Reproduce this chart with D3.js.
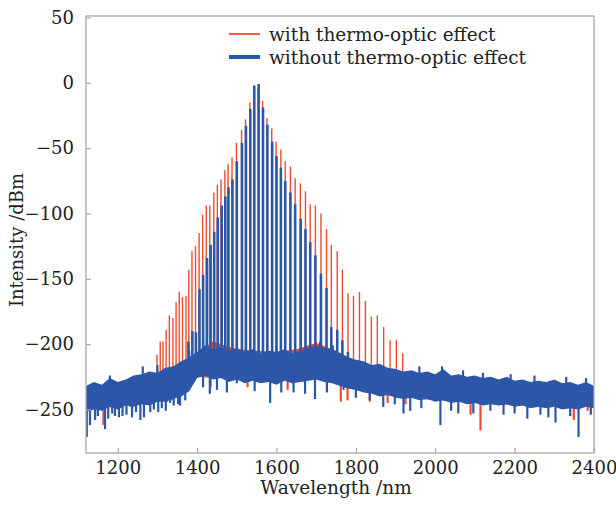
<!DOCTYPE html>
<html>
<head>
<meta charset="utf-8">
<script src="https://cdn.jsdelivr.net/npm/d3@7"></script>
<style>
  body { margin: 0; background: #fff; }
  text { font-family: "DejaVu Serif", serif; fill: #222; }
</style>
</head>
<body>
<svg id="chart" width="616" height="506"></svg>
<script>
// axis ticks
const xTicks = [1200, 1400, 1600, 1800, 2000, 2200, 2400];
const yTicks = [50, 0, -50, -100, -150, -200, -250];

// comb lines, without thermo-optic effect (blue)
const blueToothWl = [1378, 1388, 1397, 1406, 1415, 1425, 1434, 1443, 1452, 1462, 1471, 1479, 1489,
  1500, 1513, 1523, 1534, 1544, 1555, 1566, 1577, 1589, 1600, 1611, 1622, 1635, 1647, 1661, 1673,
  1685, 1698, 1712, 1726, 1738, 1753, 1766, 1780];
const blueToothDb = [-198, -190, -191, -158, -147, -134, -124, -114, -103, -94, -87, -80, -74,
  -60, -46, -33, -20, -2, -1, -19, -32, -45, -56, -65, -75, -84, -93, -104, -112,
  -122, -132, -146, -157, -187, -189, -197, -206];

// comb lines, with thermo-optic effect (red)
const redToothWl = [1299, 1307, 1314, 1322, 1330, 1339, 1347, 1355, 1363, 1372, 1379, 1387, 1396,
  1405, 1414, 1423, 1432, 1442, 1451, 1460, 1470, 1478, 1488, 1499, 1512, 1522, 1533, 1543, 1554,
  1565, 1576, 1588, 1599, 1611, 1622, 1635, 1647, 1660, 1673, 1685, 1698, 1712, 1726, 1738, 1753,
  1766, 1780, 1794, 1809, 1824, 1839, 1854, 1870, 1886, 1902, 1918];
const redToothDb = [-208, -198, -198, -189, -178, -180, -168, -160, -164, -163, -143, -129, -125,
  -115, -101, -94, -94, -84, -78, -74, -67, -62, -57, -46, -36, -28, -15, -4, -4,
  -14, -27, -35, -45, -51, -60, -64, -73, -77, -83, -93, -94, -100, -112, -124, -129,
  -143, -161, -163, -160, -167, -179, -178, -187, -197, -197, -207];

// noise floor band of the blue trace (upper / lower edge), every 20 nm
const blueFloorWl = [1120, 1140, 1160, 1180, 1200, 1220, 1240, 1260, 1280, 1300, 1320, 1340, 1360,
  1380, 1400, 1420, 1440, 1460, 1480, 1500, 1520, 1540, 1560, 1580, 1600, 1620, 1640, 1660, 1680,
  1700, 1720, 1740, 1760, 1780, 1800, 1820, 1840, 1860, 1880, 1900, 1920, 1940, 1960, 1980, 2000,
  2020, 2040, 2060, 2080, 2100, 2120, 2140, 2160, 2180, 2200, 2220, 2240, 2260, 2280, 2300, 2320,
  2340, 2360, 2380, 2400];
const blueFloorTop = [-232, -229, -231, -226, -229, -227, -224, -223, -221, -222, -218, -217, -213,
  -210, -206, -201, -204, -202, -205, -203, -206, -204, -207, -205, -206, -204, -207, -205, -203,
  -201, -203, -204, -207, -210, -212, -213, -216, -215, -218, -219, -221, -220, -222, -221, -223,
  -219, -224, -223, -225, -224, -226, -225, -227, -225, -228, -227, -229, -228, -229, -227, -230,
  -229, -231, -229, -232];
const blueFloorBot = [-252, -250, -251, -248, -250, -247, -248, -246, -247, -244, -244, -242, -240,
  -236, -226, -224, -227, -226, -229, -227, -230, -228, -230, -229, -231, -228, -230, -229, -228,
  -227, -229, -230, -232, -234, -235, -237, -238, -240, -239, -241, -242, -241, -243, -242, -244,
  -243, -245, -244, -246, -245, -247, -246, -247, -246, -248, -247, -249, -248, -249, -248, -250,
  -249, -250, -248, -249];

// noise floor band of the red trace (mostly hidden under the blue one)
const redFloorWl = [1120, 1200, 1300, 1380, 1400, 1440, 1500, 1600, 1650, 1700, 1750, 1800, 1900,
  2000, 2100, 2200, 2300, 2400];
const redFloorTop = [-233, -230, -224, -212, -207, -198, -204, -206, -204, -199, -205, -213, -221,
  -225, -227, -230, -231, -233];
const redFloorBot = [-250, -248, -243, -235, -225, -226, -226, -228, -228, -226, -229, -234, -240,
  -243, -244, -247, -247, -248];

// downward dips below the floor
const blueDipWl = [1122, 1130, 1143, 1150, 1168, 1176, 1186, 1193, 1203, 1212, 1222, 1236, 1246,
  1257, 1266, 1282, 1291, 1302, 1311, 1321, 1332, 1341, 1352, 1357, 1370, 1415, 1432,
  1450, 1475, 1500, 1545, 1584, 1612, 1643, 1672, 1697, 1727, 1769, 1800, 1835, 1869, 1898, 1920,
  1937, 1965, 2013, 2040, 2058, 2096, 2139, 2172, 2200, 2232, 2265, 2285, 2303, 2340, 2361, 2392];
const blueDipDb = [-271, -262, -258, -255, -265, -257, -253, -255, -256, -255, -254, -256, -252,
  -258, -256, -252, -250, -252, -249, -251, -245, -247, -246, -247, -243, -233, -238,
  -235, -237, -230, -236, -245, -237, -237, -238, -242, -237, -235, -241, -243, -248, -246, -253,
  -251, -249, -262, -251, -253, -253, -251, -254, -253, -257, -254, -256, -260, -255, -271, -254];
const redDipWl = [1120, 1164, 1232, 1324, 1340, 1403, 1434, 1527, 1628, 1671, 1762, 1779, 1835,
  1880, 1925, 2089, 2114, 2164, 2349, 2384];
const redDipDb = [-271, -262, -248, -244, -243, -224, -233, -233, -235, -230, -244, -243, -244,
  -245, -246, -254, -266, -246, -258, -251];
// upward spikes above the floor
const blueUpWl = [1180, 1263, 1300, 1380, 1415, 1710, 1742, 1960, 2017, 2070, 2120, 2190, 2250,
  2330, 2380];
const blueUpDb = [-224, -217, -216, -205, -198, -198, -201, -217, -217, -220, -222, -223, -224,
  -225, -226];

const series = [
  { color: "#f04b30", toothW: 1.4, tWl: redToothWl, tDb: redToothDb, fWl: redFloorWl,
    top: redFloorTop, bot: redFloorBot, dWl: redDipWl, dDb: redDipDb, uWl: [], uDb: [] },
  { color: "#2c57a8", toothW: 2.6, tWl: blueToothWl, tDb: blueToothDb, fWl: blueFloorWl,
    top: blueFloorTop, bot: blueFloorBot, dWl: blueDipWl, dDb: blueDipDb, uWl: blueUpWl, uDb: blueUpDb }
];

const svg = d3.select("#chart");
const pLeft = 86, pRight = 594, pTop = 16, pBottom = 453;

const x = d3.scaleLinear().domain([1120, 2400]).range([pLeft, pRight]);
const y = d3.scaleLinear().domain([-283.3, 51.1]).range([pBottom, pTop]);

svg.append("defs").append("clipPath").attr("id", "clip")
  .append("rect").attr("x", pLeft).attr("y", pTop).attr("width", pRight - pLeft).attr("height", pBottom - pTop);
const plot = svg.append("g").attr("clip-path", "url(#clip)");

// floor edge at a wavelength, only used to anchor the vertical strokes
function floorAt(wls, arr, wl) {
  const i = Math.min(wls.length - 1, Math.max(1, d3.bisectLeft(wls, wl)));
  const t = (wl - wls[i - 1]) / (wls[i] - wls[i - 1]);
  return arr[i - 1] + t * (arr[i] - arr[i - 1]);
}

series.forEach(s => {
  const g = plot.append("g");
  const area = d3.area()
    .x((d, i) => x(s.fWl[i]))
    .y0((d, i) => y(s.bot[i]))
    .y1((d, i) => y(s.top[i]));
  g.append("path").datum(s.fWl).attr("d", area).attr("fill", s.color);

  // comb teeth
  g.selectAll(".tooth").data(s.tWl).enter().append("line")
    .attr("x1", d => x(d)).attr("x2", d => x(d))
    .attr("y1", d => y(floorAt(s.fWl, s.top, d) - 12))
    .attr("y2", (d, i) => y(s.tDb[i]))
    .attr("stroke", s.color).attr("stroke-width", s.toothW);

  // dips
  g.selectAll(".dip").data(s.dWl).enter().append("line")
    .attr("x1", d => x(d)).attr("x2", d => x(d))
    .attr("y1", d => y(floorAt(s.fWl, s.bot, d) + 8))
    .attr("y2", (d, i) => y(s.dDb[i]))
    .attr("stroke", s.color).attr("stroke-width", 2.2);

  g.selectAll(".up").data(s.uWl).enter().append("line")
    .attr("x1", d => x(d)).attr("x2", d => x(d))
    .attr("y1", d => y(floorAt(s.fWl, s.top, d) - 6))
    .attr("y2", (d, i) => y(s.uDb[i]))
    .attr("stroke", s.color).attr("stroke-width", 2.2);
});

// frame
svg.append("rect").attr("x", pLeft).attr("y", pTop).attr("width", pRight - pLeft).attr("height", pBottom - pTop)
  .attr("fill", "none").attr("stroke", "#a8a8a8").attr("stroke-width", 1.3);

const xAxis = svg.append("g").attr("transform", `translate(0,${pBottom})`)
  .call(d3.axisBottom(x).tickValues(xTicks).tickFormat(d3.format("d")).tickSizeInner(-5).tickSizeOuter(0).tickPadding(8));
const yAxis = svg.append("g").attr("transform", `translate(${pLeft},0)`)
  .call(d3.axisLeft(y).tickValues(yTicks).tickFormat(d3.format("d")).tickSizeInner(-5).tickSizeOuter(0).tickPadding(12));
[xAxis, yAxis].forEach(a => {
  a.select(".domain").remove();
  a.selectAll("line").attr("stroke", "#a8a8a8").attr("stroke-width", 1.2);
  a.selectAll("text").attr("font-family", "DejaVu Serif").attr("font-size", 18).attr("fill", "#222");
});

svg.append("text").attr("x", 336).attr("y", 494).attr("text-anchor", "middle")
  .attr("font-size", 18.5).text("Wavelength /nm");
svg.append("text").attr("transform", "translate(23,240) rotate(-90)").attr("text-anchor", "middle")
  .attr("font-size", 18).text("Intensity /dBm");

// legend
const legend = [
  { label: "with thermo-optic effect", color: "#f04b30", w: 1.8, yy: 34 },
  { label: "without thermo-optic effect", color: "#2c57a8", w: 4, yy: 57 }
];
legend.forEach(l => {
  svg.append("line").attr("x1", 229).attr("x2", 260).attr("y1", l.yy).attr("y2", l.yy)
    .attr("stroke", l.color).attr("stroke-width", l.w);
  svg.append("text").attr("x", 269).attr("y", l.yy).attr("dominant-baseline", "central")
    .attr("font-size", 18.5).text(l.label);
});
</script>
</body>
</html>
